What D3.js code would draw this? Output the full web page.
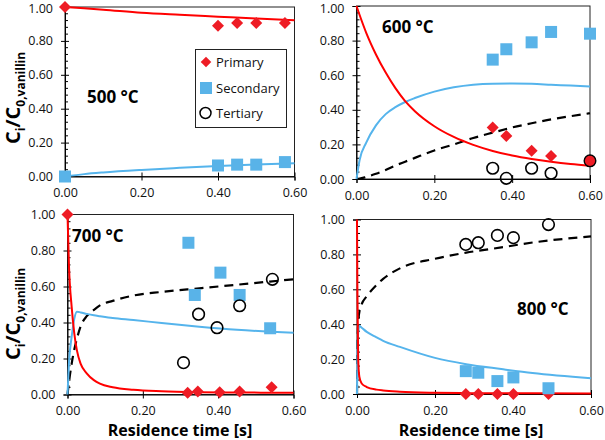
<!DOCTYPE html>
<html><head><meta charset="utf-8">
<script src="https://cdn.jsdelivr.net/npm/d3@7"></script>
<style>html,body{margin:0;padding:0;background:#fff;}svg{display:block;}</style>
</head><body>
<svg id="chart" width="605" height="440"></svg>
<script>
// ---------- data ----------
const xTicks = [0, 0.2, 0.4, 0.6];
const yTicks = [0, 0.2, 0.4, 0.6, 0.8, 1.0];
const tempLabels = ["500 °C", "600 °C", "700 °C", "800 °C"];
const legendNames = ["Primary", "Secondary", "Tertiary"];

// 500 °C experiments
const t500 = [0.40, 0.45, 0.50, 0.575];
const primary500 = [0.89, 0.905, 0.905, 0.905];
const secondary500 = [0.065, 0.07, 0.07, 0.085];
const t500_0 = [0];
const primary500_0 = [1.0];
const secondary500_0 = [0.0];
// 500 °C model
const m500_t = [0, 0.05, 0.1, 0.2, 0.3, 0.4, 0.5, 0.6];
const m500_primary = [1.0, 0.992, 0.984, 0.966, 0.954, 0.943, 0.932, 0.922];
const m500_secondary = [0, 0.014, 0.024, 0.039, 0.051, 0.062, 0.071, 0.078];

// 600 °C experiments
const t600 = [0.35, 0.385, 0.45, 0.50];
const primary600 = [0.297, 0.249, 0.164, 0.133];
const t600_sec = [0.35, 0.385, 0.45, 0.50, 0.60];
const secondary600 = [0.69, 0.75, 0.79, 0.85, 0.84];
const tertiary600 = [0.062, 0.004, 0.062, 0.033];
const t600_overlap = [0.60];
const overlap600 = [0.105];
// 600 °C model
const m600_t = [0, 0.008, 0.025, 0.05, 0.075, 0.1, 0.125, 0.15, 0.2, 0.25, 0.3, 0.35, 0.4, 0.45, 0.5, 0.55, 0.6];
const m600_primary = [1.0, 0.948, 0.845, 0.72, 0.615, 0.525, 0.45, 0.392, 0.305, 0.243, 0.197, 0.162, 0.136, 0.116, 0.1, 0.087, 0.077];
const m600_secondary = [0, 0.11, 0.21, 0.31, 0.375, 0.415, 0.445, 0.468, 0.505, 0.53, 0.545, 0.551, 0.552, 0.55, 0.545, 0.54, 0.535];
const m600_tertiary = [0, 0.002, 0.012, 0.03, 0.052, 0.078, 0.1, 0.122, 0.165, 0.2, 0.237, 0.268, 0.298, 0.322, 0.345, 0.363, 0.38];

// 700 °C experiments
const t700_0 = [0];
const primary700_0 = [1.0];
const t700_pri = [0.319, 0.346, 0.404, 0.457, 0.542];
const primary700 = [0.01, 0.016, 0.012, 0.016, 0.04];
const t700_sec = [0.321, 0.338, 0.406, 0.457, 0.538];
const secondary700 = [0.843, 0.553, 0.677, 0.553, 0.368];
const t700_ter = [0.308, 0.348, 0.397, 0.457, 0.544];
const tertiary700 = [0.177, 0.446, 0.371, 0.493, 0.64];
// 700 °C model
const m700_t = [0, 0.004, 0.011, 0.018, 0.025, 0.035, 0.051, 0.07, 0.086, 0.12, 0.175, 0.25, 0.35, 0.45, 0.6];
const m700_primary = [1.0, 0.71, 0.488, 0.34, 0.245, 0.17, 0.118, 0.08, 0.06, 0.04, 0.026, 0.018, 0.013, 0.011, 0.01];
const m700_secondary = [0, 0.18, 0.32, 0.42, 0.46, 0.456, 0.448, 0.44, 0.435, 0.425, 0.414, 0.397, 0.377, 0.36, 0.343];
const m700_tertiary = [0, 0.07, 0.17, 0.25, 0.31, 0.38, 0.435, 0.47, 0.495, 0.52, 0.55, 0.57, 0.59, 0.61, 0.64];

// 800 °C experiments
const t800 = [0.279, 0.311, 0.360, 0.401, 0.491];
const primary800 = [0.0, 0.0, 0.0, 0.0, 0.0];
const secondary800 = [0.131, 0.122, 0.074, 0.095, 0.033];
const tertiary800 = [0.857, 0.867, 0.909, 0.896, 0.971];
// 800 °C model
const m800_t = [0, 0.001, 0.003, 0.006, 0.012, 0.025, 0.05, 0.067, 0.11, 0.2, 0.28, 0.37, 0.45, 0.6];
const m800_primary = [1.0, 0.6, 0.2, 0.1, 0.06, 0.04, 0.025, 0.02, 0.013, 0.007, 0.005, 0.004, 0.004, 0.003];
const m800_secondary = [0, 0.2, 0.35, 0.39, 0.38, 0.356, 0.325, 0.305, 0.27, 0.207, 0.171, 0.143, 0.12, 0.09];
const m800_tertiary = [0, 0.2, 0.4, 0.47, 0.515, 0.56, 0.625, 0.66, 0.72, 0.775, 0.81, 0.84, 0.868, 0.903];

// ---------- drawing ----------
const FONT = "'Open Sans', sans-serif";
const RED = "#ff0000", RED_M = "#ee1c25", BLUE = "#55b4ec", BLUE_M = "#59b3e8";
const svg = d3.select("#chart");
const zip = (a, b) => a.map((v, i) => [v, b[i]]);

function drawPanel(g, p) {
  const x = d3.scaleLinear().domain([0, 0.6]).range([p.x0, p.x1]);
  const y = d3.scaleLinear().domain([0, 1]).range([p.y0, p.y1]);
  const id = "clip" + p.idx;
  svg.append("clipPath").attr("id", id).append("rect")
    .attr("x", p.x0 - 1.5).attr("y", p.y1 - 1.5)
    .attr("width", p.x1 - p.x0 + 3).attr("height", p.y0 - p.y1 + 3);
  // frame
  g.append("rect").attr("x", p.x0).attr("y", p.y1)
    .attr("width", p.x1 - p.x0).attr("height", p.y0 - p.y1)
    .attr("fill", "none").attr("stroke", "#222").attr("stroke-width", 1);
  // y axis: major ticks crossing, minor ticks inside
  const minor = d3.range(0, 1.0001, 0.04).filter(v => Math.abs(v * 5 - Math.round(v * 5)) > 1e-6);
  g.append("g").selectAll("line").data(minor).join("line")
    .attr("x1", p.x0).attr("x2", p.x0 + 3).attr("y1", d => y(d)).attr("y2", d => y(d))
    .attr("stroke", "#000").attr("stroke-width", 1);
  const ya = g.append("g").attr("transform", `translate(${p.x0},0)`)
    .call(d3.axisLeft(y).tickValues(yTicks).tickFormat(d3.format(".2f")).tickSize(4).tickPadding(8));
  ya.select(".domain").attr("stroke", "#000");
  ya.selectAll(".tick line").attr("x2", 4).attr("x1", -4).attr("stroke", "#000");
  ya.selectAll("text").attr("font-family", FONT).attr("font-size", 12.5).attr("fill", "#111")
    .attr("transform", d => (y(d) < 8 ? `translate(0,${8 - y(d)})` : null));
  // x axis
  const xa = g.append("g").attr("transform", `translate(0,${p.y0})`)
    .call(d3.axisBottom(x).tickValues(xTicks).tickFormat(d3.format(".2f")).tickSize(4).tickPadding(8));
  xa.select(".domain").attr("stroke", "#000");
  xa.selectAll(".tick line").attr("y1", -4).attr("y2", 4).attr("stroke", "#000");
  xa.selectAll("text").attr("font-family", FONT).attr("font-size", 12.5).attr("fill", "#111");

  // model curves
  const line = d3.line().x(d => x(d[0])).y(d => y(d[1])).curve(d3.curveMonotoneX);
  const cg = g.append("g").attr("clip-path", `url(#${id})`);
  if (p.mTer) cg.append("path").attr("d", line(zip(p.mt, p.mTer))).attr("fill", "none")
    .attr("stroke", "#000").attr("stroke-width", 2.2).attr("stroke-dasharray", "9,6");
  if (p.mSec) cg.append("path").attr("d", line(zip(p.mt, p.mSec))).attr("fill", "none")
    .attr("stroke", BLUE).attr("stroke-width", 2);
  if (p.mPri) cg.append("path").attr("d", line(zip(p.mt, p.mPri))).attr("fill", "none")
    .attr("stroke", RED).attr("stroke-width", 2);

  // markers
  (p.pri || []).forEach(s => g.append("g").selectAll("path").data(s).join("path")
    .attr("d", d3.symbol().type(d3.symbolSquare).size(72)())
    .attr("transform", d => `translate(${x(d[0])},${y(d[1])}) rotate(45)`)
    .attr("fill", RED_M));
  (p.sec || []).forEach(s => g.append("g").selectAll("rect").data(s).join("rect")
    .attr("x", d => x(d[0]) - 6).attr("y", d => y(d[1]) - 6)
    .attr("width", 12).attr("height", 12).attr("fill", BLUE_M));
  (p.ter || []).forEach(s => g.append("g").selectAll("circle").data(s).join("circle")
    .attr("cx", d => x(d[0])).attr("cy", d => y(d[1])).attr("r", 5.8)
    .attr("fill", "none").attr("stroke", "#000").attr("stroke-width", 1.6));
  (p.ovl || []).forEach(s => g.append("g").selectAll("circle").data(s).join("circle")
    .attr("cx", d => x(d[0])).attr("cy", d => y(d[1])).attr("r", 5.8)
    .attr("fill", RED_M).attr("stroke", "#000").attr("stroke-width", 1.4));

  // temperature label
  g.append("text").attr("x", p.lx).attr("y", p.ly).attr("font-family", FONT)
    .attr("font-weight", "bold").attr("font-size", 17).attr("fill", "#000").text(p.label);
}

const panels = [
  { idx: 0, x0: 65, x1: 294.5, y0: 176.5, y1: 7, label: tempLabels[0], lx: 87, ly: 103,
    mt: m500_t, mPri: m500_primary, mSec: m500_secondary,
    pri: [zip(t500, primary500), zip(t500_0, primary500_0)],
    sec: [zip(t500, secondary500), zip(t500_0, secondary500_0)] },
  { idx: 1, x0: 356.5, x1: 590, y0: 179, y1: 6, label: tempLabels[1], lx: 382, ly: 33,
    mt: m600_t, mPri: m600_primary, mSec: m600_secondary, mTer: m600_tertiary,
    pri: [zip(t600, primary600)], sec: [zip(t600_sec, secondary600)],
    ter: [zip(t600, tertiary600)], ovl: [zip(t600_overlap, overlap600)] },
  { idx: 2, x0: 67.5, x1: 293.5, y0: 394.5, y1: 214.5, label: tempLabels[2], lx: 72, ly: 242,
    mt: m700_t, mPri: m700_primary, mSec: m700_secondary, mTer: m700_tertiary,
    pri: [zip(t700_pri, primary700), zip(t700_0, primary700_0)],
    sec: [zip(t700_sec, secondary700)], ter: [zip(t700_ter, tertiary700)] },
  { idx: 3, x0: 357, x1: 591, y0: 394, y1: 219.5, label: tempLabels[3], lx: 517, ly: 315,
    mt: m800_t, mPri: m800_primary, mSec: m800_secondary, mTer: m800_tertiary,
    pri: [zip(t800, primary800)], sec: [zip(t800, secondary800)], ter: [zip(t800, tertiary800)] }
];
panels.forEach(p => drawPanel(svg.append("g"), p));

// legend in 500 °C panel
const lg = svg.append("g");
lg.append("rect").attr("x", 195.5).attr("y", 49.5).attr("width", 91).attr("height", 78)
  .attr("fill", "#fff").attr("stroke", "#222").attr("stroke-width", 1);
const ly = [62, 88, 113];
lg.append("path").attr("d", d3.symbol().type(d3.symbolSquare).size(56)())
  .attr("transform", `translate(206,${ly[0]}) rotate(45)`).attr("fill", RED_M);
lg.append("rect").attr("x", 200).attr("y", ly[1] - 6).attr("width", 12).attr("height", 12).attr("fill", BLUE_M);
lg.append("circle").attr("cx", 205.5).attr("cy", ly[2]).attr("r", 5.5)
  .attr("fill", "none").attr("stroke", "#000").attr("stroke-width", 1.5);
legendNames.forEach((n, i) => lg.append("text").attr("x", 216).attr("y", ly[i]).attr("dy", "0.35em")
  .attr("font-family", FONT).attr("font-size", 13).attr("fill", "#111").text(n));

// y-axis titles
function yTitle(cx, cy) {
  const t = svg.append("text").attr("transform", `translate(${cx},${cy}) rotate(-90)`)
    .attr("text-anchor", "middle").attr("font-family", FONT).attr("font-weight", "bold")
    .attr("font-size", 20).attr("fill", "#000");
  t.append("tspan").text("C");
  t.append("tspan").attr("font-size", 12).attr("dy", 5).text("i");
  t.append("tspan").attr("dy", -5).text("/C");
  t.append("tspan").attr("font-size", 12).attr("dy", 5).text("0,vanillin");
}
yTitle(20, 98);
yTitle(20, 314);

// x-axis titles
["Residence time [s]", "Residence time [s]"].forEach((s, i) =>
  svg.append("text").attr("x", [180, 471][i]).attr("y", 436).attr("text-anchor", "middle")
    .attr("font-family", FONT).attr("font-weight", "bold").attr("font-size", 16)
    .attr("fill", "#000").text(s));
</script>
</body></html>
